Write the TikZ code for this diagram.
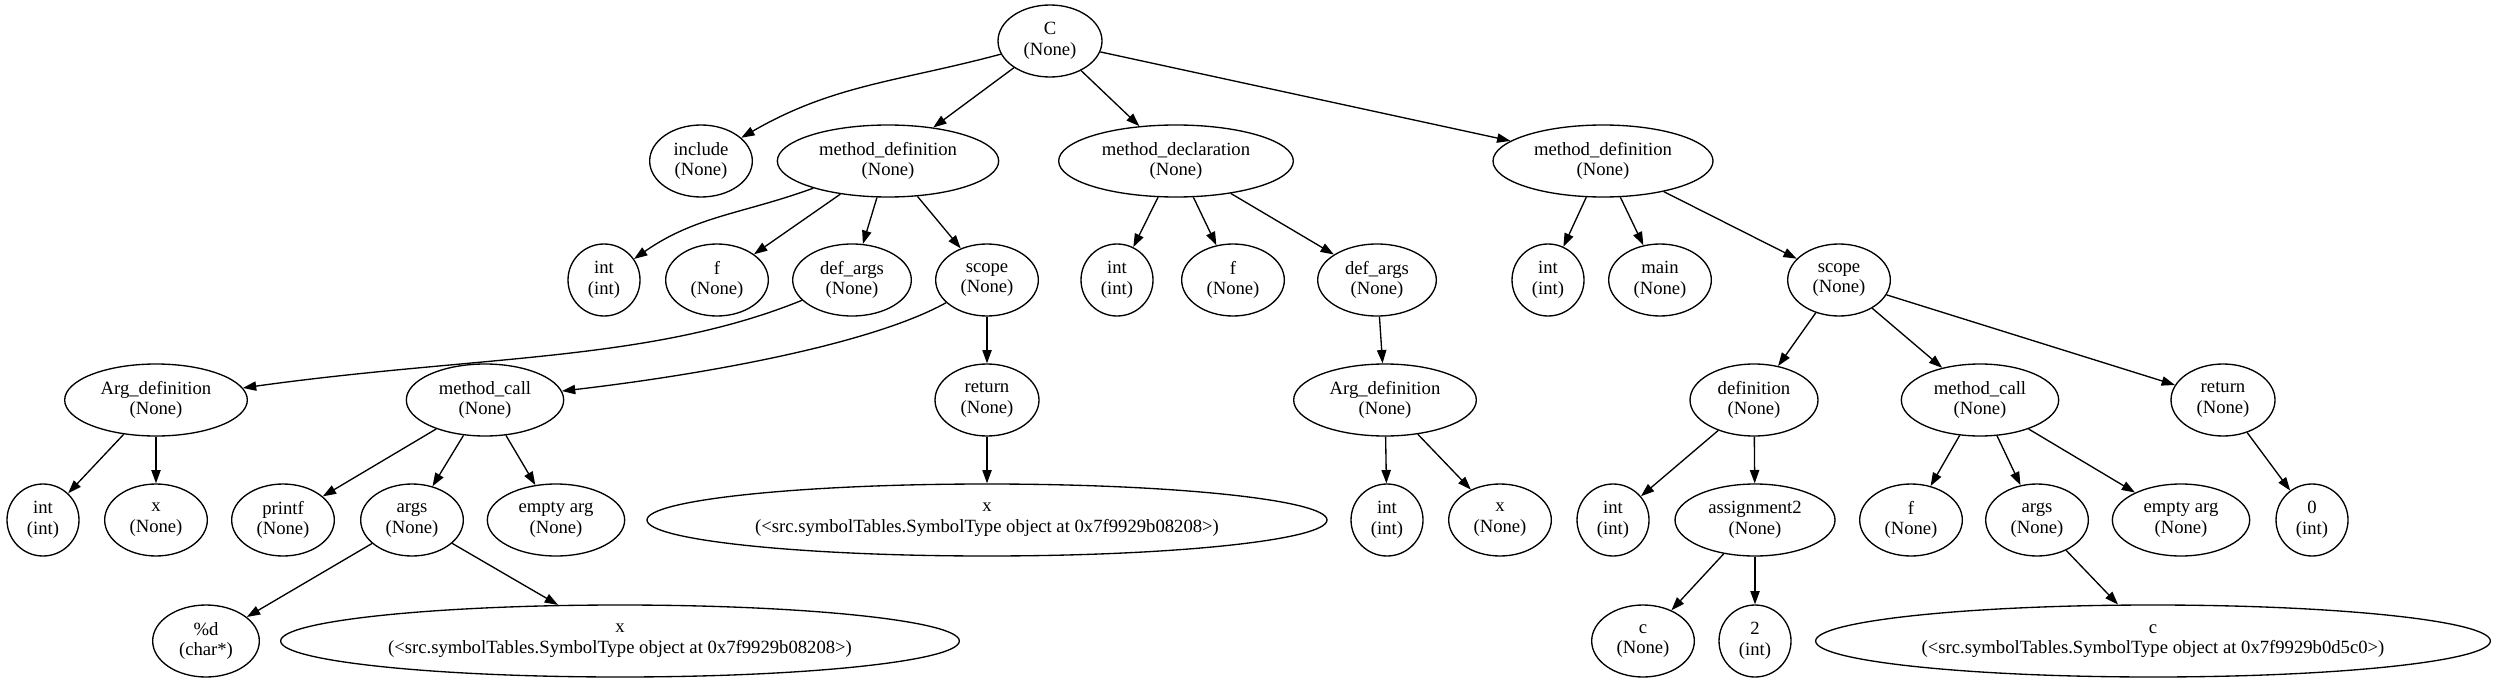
\documentclass[tikz,border=0pt]{standalone}
\usepackage{fontspec}
\setmainfont{Liberation Serif}
\usetikzlibrary{shapes.geometric, arrows.meta}

\begin{document}
\begin{tikzpicture}[x=0.75pt, y=0.75pt, line width=1pt, >={Triangle[length=10pt, width=7pt]},
  every node/.style={font=\fontsize{14pt}{15.5pt}\selectfont},
  ast/.style={draw, ellipse, inner sep=0pt, minimum height=54pt, minimum width=#1, align=center},
  ast/.default=54pt]
  \useasboundingbox (0,0) rectangle (2497,-681);

  \node (root) [ast=78pt] at (1050,-41) {C\\(None)};

  \node (incl) [ast=77pt] at (701,-161) {include\\(None)};
  \node (mdef1) [ast=166pt] at (888,-161) {method\_definition\\(None)};
  \node (mdecl) [ast=176pt] at (1176,-161) {method\_declaration\\(None)};
  \node (mdef2) [ast=165pt] at (1603,-161) {method\_definition\\(None)};

  \node (int1) [ast] at (604,-280) {int\\(int)};
  \node (f1) [ast=77pt] at (717,-280) {f\\(None)};
  \node (dargs1) [ast=89pt] at (852,-280) {def\_args\\(None)};
  \node (scope1) [ast=77pt] at (987,-280) {scope\\(None)};
  \node (int2) [ast] at (1117,-280) {int\\(int)};
  \node (f2) [ast=77pt] at (1233,-280) {f\\(None)};
  \node (dargs2) [ast=89pt] at (1377,-280) {def\_args\\(None)};
  \node (int3) [ast] at (1548,-280) {int\\(int)};
  \node (main) [ast=77pt] at (1660,-280) {main\\(None)};
  \node (scope2) [ast=77pt] at (1839,-280) {scope\\(None)};

  \node (adef1) [ast=137pt] at (156,-400) {Arg\_definition\\(None)};
  \node (mcall1) [ast=118pt] at (485,-400) {method\_call\\(None)};
  \node (ret1) [ast=78pt] at (987,-400) {return\\(None)};
  \node (adef2) [ast=137pt] at (1385,-400) {Arg\_definition\\(None)};
  \node (defn) [ast=96pt] at (1754,-400) {definition\\(None)};
  \node (mcall2) [ast=118pt] at (1980,-400) {method\_call\\(None)};
  \node (ret2) [ast=78pt] at (2223,-400) {return\\(None)};

  \node (int4) [ast] at (43,-520) {int\\(int)};
  \node (x1) [ast=77pt] at (156,-520) {x\\(None)};
  \node (printf) [ast=77pt] at (283,-520) {printf\\(None)};
  \node (args1) [ast=77pt] at (412,-520) {args\\(None)};
  \node (empty1) [ast=103pt] at (556,-520) {empty arg\\(None)};
  \node (xsym1) [ast=510pt] at (987,-520) {x\\(<src.symbolTables.SymbolType object at 0x7f9929b08208>)};
  \node (int5) [ast] at (1387,-520) {int\\(int)};
  \node (x2) [ast=77pt] at (1500,-520) {x\\(None)};
  \node (int6) [ast] at (1613,-520) {int\\(int)};
  \node (assign) [ast=120pt] at (1755,-520) {assignment2\\(None)};
  \node (f3) [ast=77pt] at (1911,-520) {f\\(None)};
  \node (args2) [ast=77pt] at (2037,-520) {args\\(None)};
  \node (empty2) [ast=103pt] at (2181,-520) {empty arg\\(None)};
  \node (zero) [ast] at (2312,-520) {0\\(int)};

  \node (fmt) [ast=80pt] at (206,-641) {\%d\\(char*)};
  \node (xsym2) [ast=509pt] at (620,-641) {x\\(<src.symbolTables.SymbolType object at 0x7f9929b08208>)};
  \node (c1) [ast=77pt] at (1643,-641) {c\\(None)};
  \node (two) [ast] at (1755,-641) {2\\(int)};
  \node (csym) [ast=506pt] at (2153,-641) {c\\(<src.symbolTables.SymbolType object at 0x7f9929b0d5c0>)};

  \draw [->] (root) to[out=195, in=30] (incl);
  \draw [->] (root) -- (mdef1);
  \draw [->] (root) -- (mdecl);
  \draw [->] (root) -- (mdef2);

  \draw [->] (mdef1) to[out=200, in=35] (int1);
  \draw [->] (mdef1) -- (f1);
  \draw [->] (mdef1) -- (dargs1);
  \draw [->] (mdef1) -- (scope1);
  \draw [->] (mdecl) -- (int2);
  \draw [->] (mdecl) -- (f2);
  \draw [->] (mdecl) -- (dargs2);
  \draw [->] (mdef2) -- (int3);
  \draw [->] (mdef2) -- (main);
  \draw [->] (mdef2) -- (scope2);

  \draw [->] (dargs1) .. controls (650,-362) and (480,-355) .. (adef1);
  \draw [->] (scope1) .. controls (870,-345) and (700,-375) .. (mcall1);
  \draw [->] (scope1) -- (ret1);
  \draw [->] (dargs2) -- (adef2);
  \draw [->] (scope2) -- (defn);
  \draw [->] (scope2) -- (mcall2);
  \draw [->] (scope2) -- (ret2);

  \draw [->] (adef1) -- (int4);
  \draw [->] (adef1) -- (x1);
  \draw [->] (mcall1) -- (printf);
  \draw [->] (mcall1) -- (args1);
  \draw [->] (mcall1) -- (empty1);
  \draw [->] (ret1) -- (xsym1);
  \draw [->] (adef2) -- (int5);
  \draw [->] (adef2) -- (x2);
  \draw [->] (defn) -- (int6);
  \draw [->] (defn) -- (assign);
  \draw [->] (mcall2) -- (f3);
  \draw [->] (mcall2) -- (args2);
  \draw [->] (mcall2) -- (empty2);
  \draw [->] (ret2) -- (zero);

  \draw [->] (args1) -- (fmt);
  \draw [->] (args1) -- (xsym2);
  \draw [->] (assign) -- (c1);
  \draw [->] (assign) -- (two);
  \draw [->] (args2) -- (csym);
\end{tikzpicture}
\end{document}
